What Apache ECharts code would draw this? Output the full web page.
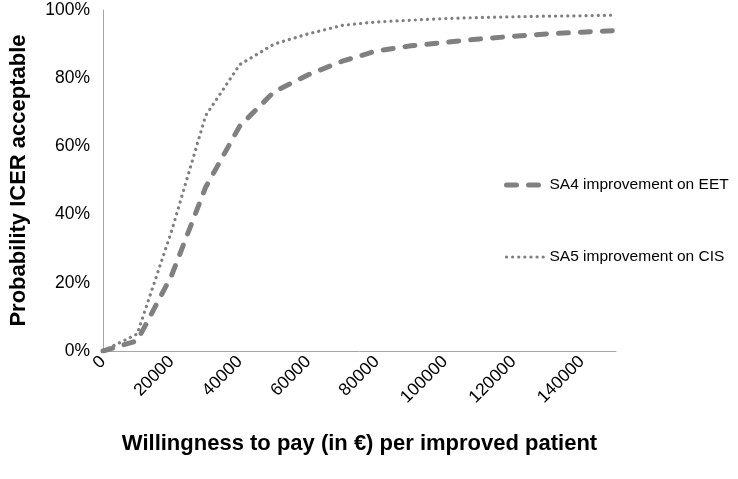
<!DOCTYPE html>
<html>
<head>
<meta charset="utf-8">
<script src="https://cdn.jsdelivr.net/npm/echarts@6/dist/echarts.min.js"></script>
<style>html,body{margin:0;padding:0;background:#fff;}#c{width:738px;height:479px;}</style>
</head>
<body>
<div id="c"></div>
<script>
const categories = ['0','10000','20000','30000','40000','50000','60000','70000','80000','90000','100000','110000','120000','130000','140000','150000'];
const sa4 = [0, 0.03, 0.22, 0.48, 0.66, 0.76, 0.81, 0.85, 0.88, 0.895, 0.905, 0.915, 0.923, 0.93, 0.935, 0.94];
const sa5 = [0, 0.05, 0.35, 0.69, 0.84, 0.90, 0.93, 0.955, 0.965, 0.97, 0.975, 0.978, 0.98, 0.982, 0.983, 0.985];
const seriesNames = ['SA4 improvement on EET', 'SA5 improvement on CIS'];
const xTitle = 'Willingness to pay (in €) per improved patient';
const yTitle = 'Probability ICER acceptable';

const chart = echarts.init(document.getElementById('c'));
const font = 'Liberation Sans, Arial, sans-serif';
const grey = '#808080';
const dashStyle = { color: grey, width: 5, type: [10, 12], cap: 'round' };
const dotStyle = { color: grey, width: 3.2, type: [0.1, 6], cap: 'round' };
chart.setOption({
  animation: false,
  backgroundColor: '#fff',
  grid: { left: 93, right: 122, top: 10, bottom: 128 },
  legend: {
    orient: 'vertical', left: 499, top: 172, itemGap: 56, itemWidth: 38, itemHeight: 12,
    textStyle: { fontFamily: font, fontSize: 15.5, color: '#000' },
    data: [
      { name: seriesNames[0], lineStyle: dashStyle, itemStyle: { opacity: 0 } },
      { name: seriesNames[1], lineStyle: dotStyle, itemStyle: { opacity: 0 } }
    ]
  },
  xAxis: {
    type: 'category', data: categories, boundaryGap: false,
    name: xTitle, nameLocation: 'middle', nameGap: 82,
    nameTextStyle: { fontFamily: font, fontSize: 22, fontWeight: 'bold', color: '#000' },
    axisLine: { lineStyle: { color: '#a6a6a6', width: 1 } },
    axisTick: { show: false },
    axisLabel: { interval: 1, rotate: 45, fontFamily: font, fontSize: 17.5, color: '#000', margin: 8 },
    splitLine: { show: false }
  },
  yAxis: {
    type: 'value', min: 0, max: 1, interval: 0.2,
    name: yTitle, nameLocation: 'middle', nameGap: 73,
    nameTextStyle: { fontFamily: font, fontSize: 22, fontWeight: 'bold', color: '#000' },
    axisLine: { show: true, lineStyle: { color: '#a6a6a6', width: 1 } },
    axisTick: { show: false },
    axisLabel: { fontFamily: font, fontSize: 17.5, color: '#000', margin: 13, formatter: v => Math.round(v * 100) + '%' },
    splitLine: { show: false }
  },
  series: [
    { name: seriesNames[0], type: 'line', data: sa4, symbol: 'none', showSymbol: false,
      itemStyle: { color: grey }, lineStyle: dashStyle },
    { name: seriesNames[1], type: 'line', data: sa5, symbol: 'none', showSymbol: false,
      itemStyle: { color: grey }, lineStyle: dotStyle }
  ]
});
</script>
</body>
</html>
